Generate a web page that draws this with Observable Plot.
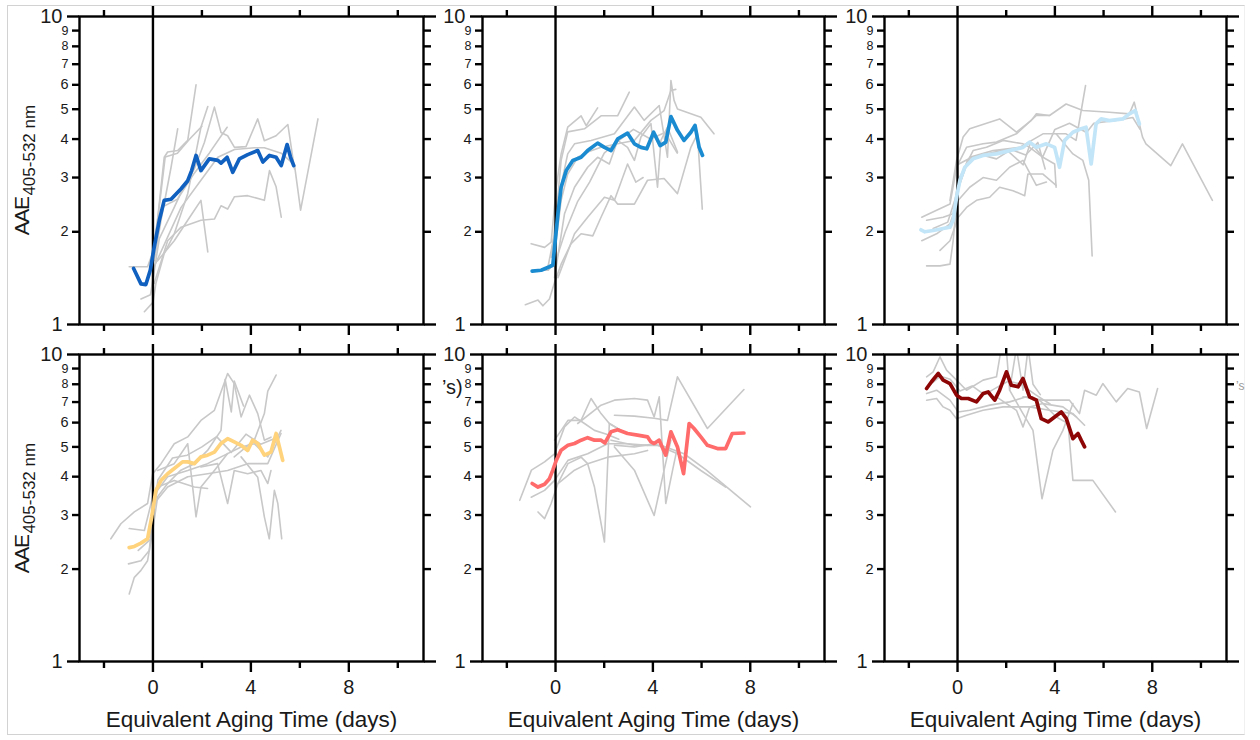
<!DOCTYPE html>
<html>
<head>
<meta charset="utf-8">
<script src="https://cdn.jsdelivr.net/npm/d3@7"></script>
<script src="https://cdn.jsdelivr.net/npm/@observablehq/plot@0.6"></script>
<style>
  body { margin: 0; background: #fff; font-family: "Liberation Sans", Arial, sans-serif; }
  #fig { position: relative; width: 1260px; height: 740px; overflow: hidden; background: #fff; }
  #border { position: absolute; left: 7px; top: 5px; width: 1236px; height: 728px;
            border: 1px solid #d2d2d2; border-right-color: #f0f0f0; }
  .panel { position: absolute; }
  .ylab { position: absolute; transform: translate(-50%, -50%) rotate(-90deg); white-space: nowrap;
          font-family: "Liberation Sans", Arial, sans-serif; font-size: 21px; color: #1a1a1a; line-height: 1; }
  .ylab .main { letter-spacing: -1.5px; }
  .ylab .sub { font-size: 17px; position: relative; top: 6px; margin-left: 2px; }
  .frag { position: absolute; white-space: nowrap; font-size: 20px; color: #1a1a1a; line-height: 1; }
</style>
</head>
<body>
<div id="fig"><div id="border"></div></div>
<script>
// ---- tick labels ----
const yTicksMajor = [1, 10];
const yTicksMid = [2, 3, 4, 5, 6];
const yTicksSmall = [7, 8, 9];
const xTicksMajor = [0, 4, 8];
const xTicksMinor = [-2, 2, 6, 10];
const xTitle = "Equivalent Aging Time (days)";
const seriesColors = ["#1060c0", "#1a8bd0", "#c2e5f7", "#ffd27c", "#ff6b6b", "#8e0505"];

// ---- panel 1 ----
const p1Mean = [[-0.79,1.52],[-0.49,1.355],[-0.29,1.348],[-0.11,1.5],[0.05,1.78],[0.26,2.18],[0.46,2.53],[0.74,2.55],[1.15,2.76],[1.42,2.93],[1.58,3.16],[1.76,3.54],[1.96,3.16],[2.3,3.45],[2.65,3.41],[2.78,3.34],[3.03,3.49],[3.26,3.12],[3.53,3.45],[3.87,3.56],[4.28,3.67],[4.49,3.37],[4.76,3.54],[5.03,3.49],[5.24,3.28],[5.48,3.84],[5.62,3.49],[5.75,3.28]];
const p1Gray = [
  [[-0.97,1.54],[-0.22,1.54],[0,1.72],[0.19,2.2],[0.46,3.49],[0.6,3.63],[1.01,3.67],[1.42,3.96],[1.76,6.0]],
  [[-0.35,1.1],[0,1.18],[0.12,1.36],[0.46,1.7],[0.87,1.97],[1.42,2.66],[1.76,3.63],[1.96,4.37],[2.24,5.1]],
  [[-0.49,1.21],[-0.1,1.25],[0.26,1.9],[0.87,2.4],[1.21,2.75],[1.69,3.2],[2.1,3.9],[2.51,5.08],[2.78,4.2],[3.05,4.1],[3.33,3.76],[3.8,3.78],[4.28,4.65],[4.55,3.95],[5.03,4.1],[5.51,4.46],[5.78,3.2]],
  [[0.05,1.36],[0.6,1.87],[1.15,2.07],[1.96,2.18],[2.51,2.2],[2.78,2.43],[3.05,2.37],[3.33,2.6],[3.87,2.62],[4.55,2.53],[4.76,3.16],[5.03,2.8],[5.24,2.23]],
  [[0.19,1.61],[0.87,1.87],[1.42,2.18],[1.96,2.53],[2.24,1.72]],
  [[0.05,1.54],[1.15,2.4],[1.96,2.94],[2.65,3.49],[3.33,3.7],[4.15,3.75],[4.55,3.75],[5.24,3.6],[5.78,3.3],[6.03,2.35],[6.74,4.65]],
  [[0.05,1.61],[0.33,2.18],[0.74,3.24],[1.01,4.32]],
  [[0.35,2.4],[1.0,2.55],[1.69,3.1],[2.3,3.6],[3.03,4.37]],
  [[0.1,1.9],[0.5,3.5],[1.0,3.6],[1.5,4.0],[2.0,4.4]]
];

// ---- panel 2 ----
const p2Mean = [[-0.96,1.49],[-0.59,1.5],[-0.25,1.54],[-0.11,1.56],[-0.04,1.78],[0.1,2.29],[0.23,2.79],[0.44,3.16],[0.71,3.41],[1.05,3.49],[1.32,3.67],[1.73,3.88],[2.01,3.76],[2.28,3.67],[2.56,4.01],[2.96,4.18],[3.24,3.86],[3.51,3.76],[3.75,3.72],[4.03,4.21],[4.3,3.81],[4.53,3.91],[4.74,4.73],[5.01,4.27],[5.28,3.96],[5.56,4.21],[5.73,4.43],[5.9,3.76],[6.04,3.54]];
const p2Gray = [
  [[-1.24,1.16],[-0.72,1.2],[-0.52,1.15],[-0.25,1.21],[-0.04,1.37],[0.23,1.57],[0.64,1.83],[1.05,1.97],[1.53,1.94],[1.87,2.23],[2.28,2.62],[2.55,2.46],[3.24,2.46],[3.78,2.94],[4.46,2.98],[5.01,2.66],[5.56,3.76],[5.83,4.16],[6.03,2.37]],
  [[-1.0,1.83],[-0.45,1.78],[-0.18,1.85],[0.03,2.79],[0.23,3.58],[0.5,4.37],[1.05,4.76],[1.26,4.42],[1.73,5.05]],
  [[-0.31,1.54],[-0.04,1.97],[0.23,3.41],[0.5,4.22],[1.19,4.32],[1.87,4.76],[2.55,4.76],[3.03,5.68]],
  [[-0.18,1.65],[0.1,2.53],[0.5,3.58],[0.78,3.86],[1.46,3.96],[2.42,4.16],[3.24,5.08],[3.64,4.6],[4.26,5.14],[4.6,3.49],[4.74,6.2],[4.87,5.34],[5.01,5.01],[5.97,4.71],[6.51,4.16]],
  [[-0.04,1.42],[0.37,2.29],[0.78,2.79],[1.32,3.24],[1.73,3.49],[2.21,3.32],[2.55,3.96],[2.96,3.76],[3.24,3.41],[3.51,4.06],[3.92,4.49],[4.19,2.79],[4.33,3.96],[4.6,4.37],[5.01,3.63]],
  [[0.1,1.42],[0.78,1.97],[1.32,2.23],[2.01,2.59],[2.42,2.53],[2.96,3.32],[3.3,2.9],[3.6,3.0]],
  [[-0.11,1.54],[0.23,2.53],[0.5,3.08],[0.91,3.49],[1.32,3.63],[1.87,3.76],[2.55,3.86],[3.24,3.96],[3.92,4.6],[4.46,4.95],[4.74,5.75],[4.94,5.8]],
  [[-0.7,1.5],[-0.3,1.5],[0,1.6],[0.4,2.0],[0.9,2.5],[1.4,2.9],[2.0,3.6],[2.5,3.9],[3.2,4.3],[3.9,4.0],[4.5,4.2],[5.0,3.6]]
];

// ---- panel 3 ----
const p3Mean = [[-1.5,2.03],[-1.34,2.0],[-1.0,2.02],[-0.59,2.05],[-0.31,2.07],[-0.18,2.18],[-0.04,2.59],[0.1,2.94],[0.3,3.24],[0.64,3.45],[1.05,3.54],[1.6,3.58],[2.14,3.67],[2.69,3.76],[2.96,3.91],[3.24,3.76],[3.65,3.86],[3.99,3.76],[4.19,3.24],[4.4,3.96],[4.74,4.21],[5.08,4.32],[5.28,4.37],[5.49,3.32],[5.69,4.48],[5.9,4.65],[6.24,4.59],[6.79,4.65],[7.06,4.83],[7.3,4.95],[7.47,4.48]];
const p3Gray = [
  [[-1.47,2.23],[-0.86,2.35],[-0.31,2.46],[-0.04,3.24],[0.37,3.76],[1.05,3.86],[1.6,3.91],[2.42,4.16],[3.24,4.77],[3.78,4.77],[4.46,5.2],[5.15,4.95],[6.24,4.89],[7.06,4.83],[7.26,5.27],[7.6,4.06],[7.74,3.86],[8.76,3.28],[9.24,3.86],[10.47,2.53]],
  [[-1.27,1.55],[-0.72,1.55],[-0.31,1.57],[-0.18,1.87],[0.03,2.79],[0.5,3.49],[1.46,3.67],[2.55,3.76],[3.51,4.16],[4.46,4.16],[4.87,3.96],[5.26,5.97]],
  [[4.05,4.16],[4.74,3.58],[5.15,3.41],[5.39,2.94],[5.53,1.67]],
  [[-0.31,2.53],[-0.04,3.41],[0.23,4.06],[0.5,4.32],[1.73,4.65],[2.42,4.21],[3.03,4.6],[3.24,4.83],[3.78,4.77]],
  [[-0.72,1.74],[-0.31,1.87],[0.03,2.23],[0.37,2.4],[0.78,2.53],[1.32,2.59],[1.73,2.79],[2.28,2.72],[2.76,2.62],[2.89,3.08],[3.51,3.08],[4.05,2.83]],
  [[-1.47,1.87],[-0.86,1.97],[-0.31,2.12],[0.03,2.53],[0.5,2.79],[1.05,3.0],[1.6,2.94],[2.14,3.24],[2.69,3.41],[3.24,2.83],[3.65,2.9]],
  [[-1.27,2.18],[-0.59,2.23],[-0.18,2.29],[0.03,2.94],[0.64,3.67],[1.19,3.76],[1.87,3.96],[2.69,3.86],[2.96,3.76],[3.51,3.49],[3.99,3.32],[4.05,2.79]],
  [[0.0,3.3],[0.6,3.5],[1.3,3.6],[2.0,3.7],[2.7,3.3],[3.0,3.9],[3.5,3.5],[4.0,4.3],[4.6,4.5],[5.3,4.2],[5.6,4.5],[6.5,4.6],[7.2,4.7],[7.5,4.3]],
  [[-1.0,2.05],[-0.4,2.15],[0.0,2.7],[0.4,3.4],[1.0,3.55],[1.6,3.45],[2.2,3.7],[2.8,3.55],[3.3,3.9],[3.6,3.2]]
];

// ---- panel 4 ----
const p4Mean = [[-0.97,2.35],[-0.76,2.37],[-0.49,2.43],[-0.22,2.51],[-0.05,2.96],[0.12,3.61],[0.33,3.89],[0.6,4.09],[0.87,4.25],[1.21,4.47],[1.42,4.47],[1.69,4.41],[1.96,4.64],[2.23,4.7],[2.51,4.81],[2.78,5.13],[3.05,5.32],[3.32,5.19],[3.6,5.06],[3.87,4.87],[4.07,5.26],[4.28,5.13],[4.55,4.7],[4.82,4.81],[5.03,5.53],[5.3,4.52]];
const p4Gray = [
  [[-1.72,2.51],[-1.31,2.81],[-0.76,3.07],[-0.22,3.27],[-0.01,4.09],[0.33,4.41],[0.87,5.12],[1.42,5.39],[1.96,6.1],[2.51,6.58],[3.05,8.67],[3.32,8.04],[3.6,6.26],[3.94,7.37],[4.28,6.42],[4.55,5.26],[4.82,5.38]],
  [[-0.97,1.66],[-0.76,1.88],[-0.49,1.98],[-0.22,2.13],[-0.01,2.67],[0.19,3.44],[0.6,3.8],[1.14,4.2],[1.69,4.41],[2.23,4.87],[2.78,5.66],[2.95,8.3],[3.2,6.5],[3.32,8.2],[3.7,6.8]],
  [[0.19,4.19],[0.87,4.41],[1.42,5.12],[1.76,2.96],[1.96,3.7],[2.51,4.19],[3.05,4.76]],
  [[1.96,4.3],[2.64,4.41],[3.05,3.27],[3.32,4.19],[3.87,4.09],[4.41,4.19],[4.69,3.8],[4.82,4.19]],
  [[3.6,4.64],[4.28,3.98],[4.55,2.96],[4.75,2.51],[4.96,3.61],[5.1,3.27],[5.26,2.51]],
  [[3.32,4.64],[4.14,5.26],[4.55,6.42],[4.69,7.6],[5.03,8.57]],
  [[-0.15,2.54],[0.19,3.7],[0.87,3.89],[1.69,3.7],[2.23,3.66]],
  [[-1.0,2.08],[-0.49,2.13],[-0.15,2.3],[0.05,3.27],[0.6,3.7],[1.42,4.0],[2.23,4.09],[3.05,4.19],[3.87,4.41],[4.69,4.41],[5.23,5.53]],
  [[-0.97,2.71],[-0.35,2.67],[-0.01,3.44],[0.6,4.0],[1.42,4.19],[2.23,4.41],[2.78,4.64],[3.6,5.0],[4.14,5.12],[4.69,4.64],[5.23,5.66]],
  [[-0.6,2.3],[-0.1,2.5],[0.2,3.9],[0.8,4.6],[1.4,4.7],[2.0,5.0],[2.6,5.4],[3.2,4.8],[3.8,5.5],[4.4,5.1],[4.9,5.3]]
];

// ---- panel 5 ----
const p5Mean = [[-0.96,3.8],[-0.72,3.7],[-0.45,3.78],[-0.25,3.94],[-0.11,4.2],[0.03,4.52],[0.23,4.88],[0.51,5.06],[0.78,5.13],[1.05,5.26],[1.32,5.36],[1.6,5.26],[1.87,5.26],[2.03,5.15],[2.28,5.6],[2.55,5.69],[2.96,5.53],[3.37,5.46],[3.78,5.39],[3.92,5.19],[4.05,5.13],[4.26,5.26],[4.53,4.7],[4.74,5.6],[5.01,5.0],[5.26,4.09],[5.49,5.96],[5.69,5.74],[5.97,5.39],[6.24,5.06],[6.65,4.94],[6.99,4.94],[7.26,5.53],[7.74,5.55]];
const p5Gray = [
  [[-1.47,3.35],[-0.99,4.2],[-0.45,4.47],[-0.04,4.75],[0.37,5.81],[0.78,6.26],[1.19,5.96],[1.6,5.66],[2.1,5.5],[2.6,5.3]],
  [[-0.04,5.26],[0.51,6.1],[1.05,6.1],[1.46,7.19],[1.87,6.42],[2.21,5.96],[2.69,5.66]],
  [[0.91,5.96],[1.87,6.84],[2.42,7.1],[3.24,7.19],[3.78,7.1],[4.05,6.26],[4.26,7.28],[4.53,3.27],[4.81,4.2],[5.01,5.0]],
  [[2.42,6.34],[3.24,6.3],[4.05,6.2],[4.6,6.1],[5.01,8.46],[6.24,5.74],[7.74,7.69]],
  [[2.28,5.26],[3.24,5.06],[4.33,5.06],[5.28,4.75],[6.2,4.2],[8.01,3.19]],
  [[2.42,5.06],[3.24,5.0],[4.05,5.12],[5.01,4.75],[5.97,4.19],[6.99,3.7]],
  [[0.1,3.8],[0.51,4.41],[1.05,4.63],[1.32,4.41],[1.6,3.7],[2.01,2.45],[2.21,5.96],[2.69,5.66]],
  [[2.42,5.0],[3.24,4.2],[4.05,2.99],[4.46,4.2],[4.74,5.26]],
  [[-0.72,3.07],[-0.45,2.92],[-0.18,3.27],[0.1,3.8],[0.78,4.2],[1.32,4.41],[2.14,4.63],[3.24,4.75],[3.78,4.87]],
  [[-1.0,3.43],[-0.45,3.61],[-0.04,3.89],[0.51,4.52],[1.32,4.75],[2.14,5.12],[2.96,5.12],[3.78,5.06]]
];

// ---- panel 6 ----
const p6Mean = [[-1.27,7.75],[-1.07,8.15],[-0.79,8.67],[-0.59,8.25],[-0.31,8.04],[-0.04,7.37],[0.16,7.19],[0.44,7.19],[0.78,7.01],[1.05,7.46],[1.26,7.55],[1.53,7.1],[1.73,7.65],[2.01,8.78],[2.21,7.94],[2.49,7.85],[2.69,8.35],[2.96,7.28],[3.24,7.1],[3.44,6.18],[3.72,6.03],[3.99,6.26],[4.26,6.5],[4.47,6.18],[4.74,5.32],[4.95,5.53],[5.08,5.26],[5.22,5.0]];
const p6Gray = [
  [[-1.27,7.1],[-0.86,7.19],[-0.59,6.75],[-0.31,6.58],[-0.04,6.18],[0.37,6.34],[1.05,6.58],[1.87,6.75],[2.96,6.75],[3.78,6.58],[4.74,6.42],[5.22,5.88]],
  [[-1.27,8.46],[-1.0,8.78],[-0.72,9.83],[-0.45,8.89],[-0.04,8.25],[0.37,7.65],[1.05,8.25],[1.6,8.46],[1.8,10.5],[2.0,10.5],[2.14,7.65],[2.42,10.5],[2.69,7.65],[2.9,10.5],[3.1,8.0],[3.4,7.4]],
  [[2.69,7.28],[3.51,7.1],[4.6,7.1],[5.01,6.42],[5.22,7.65],[5.7,7.37],[5.97,8.04],[6.52,7.01],[6.99,7.75],[7.47,7.55],[7.77,5.74],[8.22,7.75]],
  [[2.14,7.65],[2.69,6.42],[3.1,5.66],[3.47,3.39],[3.92,4.88],[4.33,5.66],[4.74,6.92]],
  [[3.37,7.1],[4.06,6.26],[4.54,5.96],[4.74,3.89],[5.56,3.89],[6.49,3.07]],
  [[1.6,7.28],[2.42,6.58],[2.69,5.81],[2.96,6.75],[3.51,6.92],[4.33,6.75],[4.88,6.26]],
  [[-1.27,7.46],[-0.86,7.65],[-0.31,7.1],[0.03,6.5],[0.5,6.58],[1.33,6.84],[2.14,7.01],[2.83,7.28],[3.3,7.0]],
  [[-1.1,8.0],[-0.7,8.5],[-0.3,8.3],[0.1,7.6],[0.6,7.9],[1.1,7.4],[1.6,7.8],[2.1,8.2],[2.6,8.0],[3.2,7.4],[3.8,6.9]]
];

const panels = [
  {mean: p1Mean, gray: p1Gray}, {mean: p2Mean, gray: p2Gray}, {mean: p3Mean, gray: p3Gray},
  {mean: p4Mean, gray: p4Gray}, {mean: p5Mean, gray: p5Gray}, {mean: p6Mean, gray: p6Gray}
];

// ---- layout ----
const fig = document.getElementById("fig");
const colLeft = [79, 482, 884], colW = [344, 342, 342];
const rowTop = [16, 354.3], rowH = [308, 307];
const mL = 70, mR = 20, mT = 14;
const FONT = "Liberation Sans, Arial, sans-serif";
const INK = "#1a1a1a";
const SW = 2.4;

panels.forEach((p, i) => {
  const c = i % 3, r = Math.floor(i / 3);
  const bottomRow = r === 1;
  const mB = bottomRow ? 84 : 20;
  const grayRows = p.gray.flatMap((s, k) => s.map(d => ({x: d[0], y: d[1], k})));
  const meanRows = p.mean.map(d => ({x: d[0], y: d[1]}));
  const tickOnly = {strokeWidth: SW, stroke: "#000", fill: "none", label: null};
  const chart = Plot.plot({
    width: mL + colW[c] + mR,
    height: mT + rowH[r] + mB,
    marginLeft: mL, marginRight: mR, marginTop: mT, marginBottom: mB,
    style: {background: "transparent", overflow: "visible", fontFamily: FONT, color: INK},
    x: {domain: [-3, 11.05]},
    y: {type: "log", domain: [1, 10]},
    marks: [
      Plot.line(grayRows, {x: "x", y: "y", z: "k", stroke: "#c8c8c8", strokeWidth: 1.6, clip: true}),
      Plot.ruleX([0], {stroke: "#000", strokeWidth: SW}),
      Plot.line(meanRows, {x: "x", y: "y", stroke: seriesColors[i], strokeWidth: 3.7, clip: true}),
      Plot.frame({stroke: "#000", strokeWidth: SW}),
      // tick marks on all four sides
      Plot.axisY(yTicksMajor, {anchor: "left", tickSize: 12, ...tickOnly}),
      Plot.axisY([...yTicksMid, ...yTicksSmall], {anchor: "left", tickSize: 7, ...tickOnly}),
      Plot.axisY(yTicksMajor, {anchor: "right", tickSize: 12, ...tickOnly}),
      Plot.axisY([...yTicksMid, ...yTicksSmall], {anchor: "right", tickSize: 7, ...tickOnly}),
      Plot.axisX(xTicksMajor, {anchor: "top", tickSize: 11, ...tickOnly}),
      Plot.axisX(xTicksMinor, {anchor: "top", tickSize: 7, ...tickOnly}),
      Plot.axisX(xTicksMinor, {anchor: "bottom", tickSize: 7, ...tickOnly}),
      Plot.axisX(xTicksMajor, {anchor: "bottom", tickSize: 11, ...tickOnly}),
      // y tick labels
      Plot.text(yTicksMajor, {frameAnchor: "left", y: d => d, text: d => String(d), textAnchor: "end", dx: -17, fontSize: 20, fill: INK}),
      Plot.text(yTicksMid, {frameAnchor: "left", y: d => d, text: d => String(d), textAnchor: "end", dx: -11, fontSize: 14.5, fill: INK}),
      Plot.text(yTicksSmall, {frameAnchor: "left", y: d => d, text: d => String(d), textAnchor: "end", dx: -11, fontSize: 12.5, fill: INK}),
      // x tick labels and title (bottom row only)
      bottomRow ? Plot.text(xTicksMajor, {frameAnchor: "bottom", x: d => d, text: d => String(d), dy: 32, fontSize: 20, fill: INK}) : null,
      bottomRow ? Plot.text([xTitle], {text: d => d, frameAnchor: "bottom", dy: 65, fontSize: 22.5, fill: INK}) : null
    ]
  });
  const wrap = document.createElement("div");
  wrap.className = "panel";
  wrap.style.left = (colLeft[c] - mL) + "px";
  wrap.style.top = (rowTop[r] - mT) + "px";
  wrap.appendChild(chart);
  fig.appendChild(wrap);

  if (c === 0) {
    const lab = document.createElement("div");
    lab.className = "ylab";
    lab.innerHTML = '<span class="main">AAE</span><span class="sub">405-532 nm</span>';
    lab.style.left = "21px";
    lab.style.top = (rowTop[r] + rowH[r] / 2) + "px";
    fig.appendChild(lab);
  }
});

// fragments of hidden axis titles peeking out behind panels
function fragment(left, top, size, txt, color) {
  const d = document.createElement("div");
  d.className = "frag";
  d.style.left = left + "px"; d.style.top = top + "px";
  d.style.fontSize = size + "px";
  d.textContent = txt;
  if (color) d.style.color = color;
  fig.appendChild(d);
}
fragment(442, 377, 20, "\u2019s)");
fragment(1236, 380, 12, "\u2019s", "#9a9a9a");
</script>
</body>
</html>
